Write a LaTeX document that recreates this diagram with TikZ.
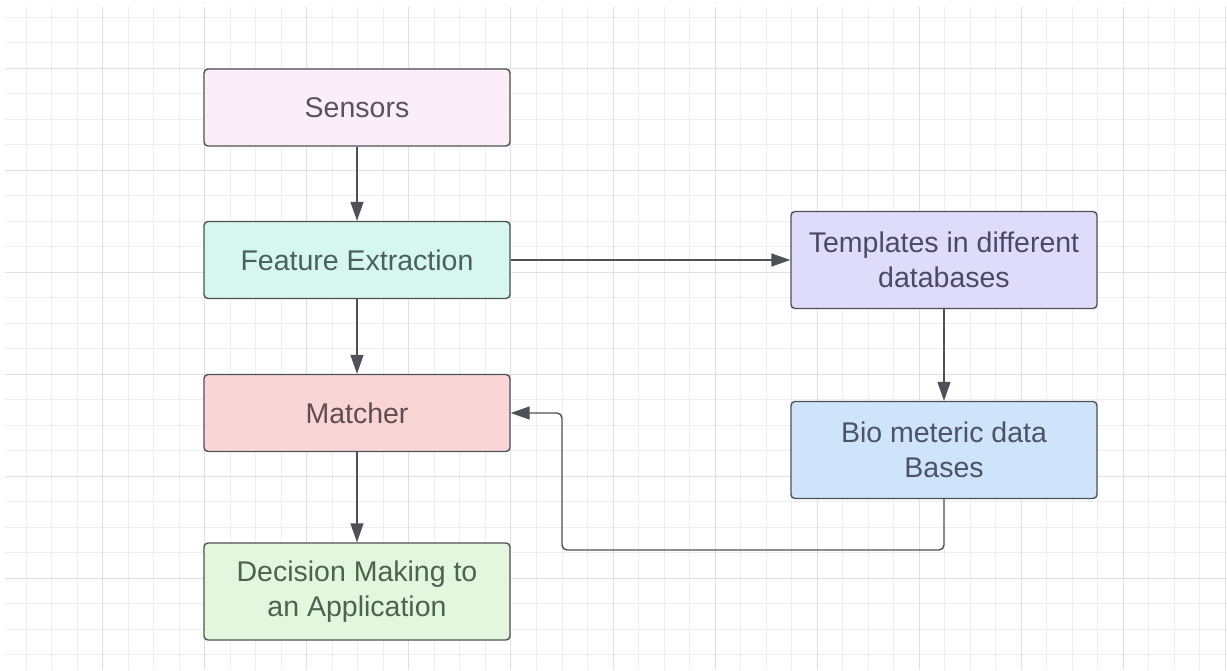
\documentclass[tikz,border=0pt]{standalone}
\usepackage{fontspec}
\setmainfont{Liberation Sans}
\usetikzlibrary{arrows.meta}
\definecolor{gridminor}{HTML}{EEEEEE}
\definecolor{gridmajor}{HTML}{E0E0E0}
\definecolor{edgec}{HTML}{4E5157}
\definecolor{fsens}{HTML}{FCEEF8}
\definecolor{ffeat}{HTML}{D5F7F0}
\definecolor{fmatch}{HTML}{FAD5D6}
\definecolor{fdec}{HTML}{E3F7DF}
\definecolor{ftemp}{HTML}{DEDCFA}
\definecolor{fbio}{HTML}{CFE3FA}
\definecolor{tsens}{HTML}{5A525E}
\definecolor{tfeat}{HTML}{4A605D}
\definecolor{tmatch}{HTML}{624C4F}
\definecolor{tdec}{HTML}{4C634E}
\definecolor{ttemp}{HTML}{4A4A66}
\definecolor{tbio}{HTML}{4A5467}
\begin{document}
\begin{tikzpicture}[x=1pt,y=-1pt,
  box/.style={draw=edgec, line width=1.4pt, rounded corners=4pt, minimum width=306pt,
    align=center, font=\fontsize{28.5}{34.5}\selectfont, inner sep=0pt},
  shortbox/.style={box, minimum height=77pt},
  tallbox/.style={box, minimum height=97pt},
  conn/.style={draw=edgec, line width=1.4pt, -{Triangle[length=19pt,width=13pt]}}
]
\useasboundingbox (0,0) rectangle (1227,670);
\fill[white] (0,0) rectangle (1227,670);
% grid
\foreach \k in {1,...,48} {
  \pgfmathtruncatemacro\r{mod(\k,4)}
  \ifnum\r>0
    \pgfmathsetmacro\xx{0.6+25.5175*\k}
    \draw[gridminor, line width=0.9pt] (\xx,7) -- (\xx,670);
  \fi
}
\foreach \k in {2,...,27} {
  \pgfmathtruncatemacro\r{mod(\k,4)}
  \ifnum\r>0
    \pgfmathsetmacro\yy{-33.7+25.5*\k}
    \draw[gridminor, line width=0.9pt] (5,\yy) -- (1227,\yy);
  \fi
}
\foreach \k in {1,...,12} {
  \pgfmathsetmacro\xx{0.6+102.07*\k}
  \draw[gridmajor, line width=1pt] (\xx,7) -- (\xx,670);
}
\foreach \k in {1,...,6} {
  \pgfmathsetmacro\yy{-33.7+102*\k}
  \draw[gridmajor, line width=1pt] (5,\yy) -- (1227,\yy);
}
% nodes
\node[shortbox, fill=fsens, text=tsens] (sens) at (357,107.5) {Sensors};
\node[shortbox, fill=ffeat, text=tfeat] (feat) at (357,260) {Feature Extraction};
\node[shortbox, fill=fmatch, text=tmatch] (match) at (357,413) {Matcher};
\node[tallbox, fill=fdec, text=tdec] (dec) at (357,591.5) {Decision Making to\\an Application};
\node[tallbox, fill=ftemp, text=ttemp] (temp) at (944,260) {Templates in different\\databases};
\node[tallbox, fill=fbio, text=tbio] (bio) at (944,450) {Bio meteric data\\Bases};
\coordinate (c1) at (944,550);
\coordinate (c2) at (562,550);
\coordinate (c3) at (562,413);
% connectors
\draw[conn] (sens) -- (feat);
\draw[conn] (feat) -- (match);
\draw[conn] (match) -- (dec);
\draw[conn] (feat) -- (temp);
\draw[conn] (temp) -- (bio);
\draw[conn, rounded corners=5pt] (bio.south) -- (c1) -- (c2) -- (c3) -- (match.east);
\end{tikzpicture}
\end{document}
